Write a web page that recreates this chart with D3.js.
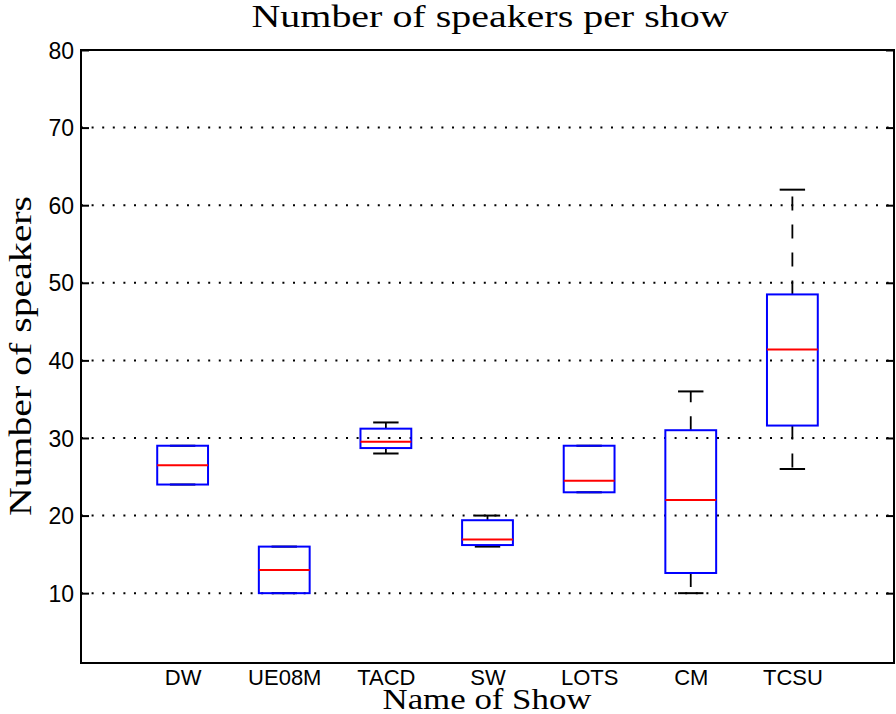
<!DOCTYPE html>
<html>
<head>
<meta charset="utf-8">
<script src="https://cdn.jsdelivr.net/npm/d3@7"></script>
<style>
  html, body { margin: 0; padding: 0; background: #fff; }
  svg { display: block; }
</style>
</head>
<body>
<script>
// ---- data ----
const categories  = ["DW", "UE08M", "TACD", "SW", "LOTS", "CM", "TCSU"];
const whiskerLow  = [24, 10, 28, 16, 23, 10, 26];
const q1          = [24, 10, 28.7, 16.2, 23, 12.6, 31.6];
const medians     = [26.5, 13, 29.5, 16.9, 24.5, 22, 41.4];
const q3          = [29, 16, 31.2, 19.4, 29, 31, 48.5];
const whiskerHigh = [29, 16, 32, 20, 29, 36, 62];
const yTicks      = [10, 20, 30, 40, 50, 60, 70, 80];
const gridValues  = [10, 20, 30, 40, 50, 60, 70];

(function () {
const W = 896, H = 714;
const mLeft = 81, mRight = 894, mTop = 50, mBottom = 663;

const svg = d3.select("body").append("svg").attr("width", W).attr("height", H);

const x = d3.scaleLinear().domain([0, 8]).range([mLeft, mRight]);
const y = d3.scaleLinear().domain([1, 80]).range([mBottom, mTop]);

const boxHalf = 0.25, capHalf = 0.125;
const sans = "Liberation Sans, Arial, Helvetica, sans-serif";

// grid
svg.append("g").selectAll("line").data(gridValues).join("line")
  .attr("x1", mLeft).attr("x2", mRight)
  .attr("y1", d => y(d)).attr("y2", d => y(d))
  .attr("stroke", "#000").attr("stroke-width", 2)
  .attr("stroke-dasharray", "2,8.6");

// y axis ticks (left & right, inward)
const yAxisL = d3.axisLeft(y).tickValues(yTicks).tickSize(-8).tickFormat(d3.format("d"));
const gL = svg.append("g").attr("transform", `translate(${mLeft},0)`).call(yAxisL);
gL.select(".domain").remove();
gL.selectAll("line").attr("stroke", "#000").attr("stroke-width", 2);
gL.selectAll("text").attr("font-family", sans)
  .attr("font-size", 23).attr("fill", "#000").attr("x", -7).attr("dy", "0.35em");

const yAxisR = d3.axisRight(y).tickValues(yTicks).tickSize(-8).tickFormat("");
const gR = svg.append("g").attr("transform", `translate(${mRight},0)`).call(yAxisR);
gR.select(".domain").remove();
gR.selectAll("line").attr("stroke", "#000").attr("stroke-width", 2);

// x labels
const xAxis = d3.axisBottom(x).tickValues(categories.map((c, i) => i + 1))
  .tickSize(0).tickFormat((d) => categories[d - 1]);
const gX = svg.append("g").attr("transform", `translate(0,${mBottom})`).call(xAxis);
gX.select(".domain").remove();
gX.selectAll("text").attr("font-family", sans)
  .attr("font-size", 22).attr("fill", "#000").attr("y", 22).attr("dy", 0);

// boxes
const data = categories.map((c, i) => ({
  pos: i + 1, lo: whiskerLow[i], q1: q1[i], med: medians[i], q3: q3[i], hi: whiskerHigh[i]
}));
const g = svg.append("g");
data.forEach(d => {
  g.append("line").attr("x1", x(d.pos)).attr("x2", x(d.pos))
    .attr("y1", y(d.q3)).attr("y2", y(d.hi))
    .attr("stroke", "#000").attr("stroke-width", 1.8).attr("stroke-dasharray", "14,14");
  g.append("line").attr("x1", x(d.pos)).attr("x2", x(d.pos))
    .attr("y1", y(d.q1)).attr("y2", y(d.lo))
    .attr("stroke", "#000").attr("stroke-width", 1.8).attr("stroke-dasharray", "14,14");
  [d.lo, d.hi].forEach(v => {
    g.append("line").attr("x1", x(d.pos - capHalf)).attr("x2", x(d.pos + capHalf))
      .attr("y1", y(v)).attr("y2", y(v))
      .attr("stroke", "#000").attr("stroke-width", 2);
  });
  g.append("rect").attr("x", x(d.pos - boxHalf)).attr("width", x(d.pos + boxHalf) - x(d.pos - boxHalf))
    .attr("y", y(d.q3)).attr("height", y(d.q1) - y(d.q3))
    .attr("fill", "none").attr("stroke", "#0000ff").attr("stroke-width", 2);
  g.append("line").attr("x1", x(d.pos - boxHalf)).attr("x2", x(d.pos + boxHalf))
    .attr("y1", y(d.med)).attr("y2", y(d.med))
    .attr("stroke", "#ff0000").attr("stroke-width", 2);
});

// frame
svg.append("rect").attr("x", mLeft).attr("y", mTop)
  .attr("width", mRight - mLeft).attr("height", mBottom - mTop)
  .attr("fill", "none").attr("stroke", "#000").attr("stroke-width", 2);

// titles
const serif = "Liberation Serif, Times New Roman, serif";
svg.append("text").attr("x", 490).attr("y", 27).attr("text-anchor", "middle")
  .attr("font-family", serif).attr("font-size", 31)
  .attr("textLength", 477).attr("lengthAdjust", "spacingAndGlyphs")
  .text("Number of speakers per show");
svg.append("text").attr("x", 487).attr("y", 709).attr("text-anchor", "middle")
  .attr("font-family", serif).attr("font-size", 30)
  .attr("textLength", 209).attr("lengthAdjust", "spacingAndGlyphs")
  .text("Name of Show");
svg.append("text").attr("transform", "translate(31,356) rotate(-90)").attr("text-anchor", "middle")
  .attr("font-family", serif).attr("font-size", 31)
  .attr("textLength", 320).attr("lengthAdjust", "spacingAndGlyphs")
  .text("Number of speakers");
})();
</script>
</body>
</html>
